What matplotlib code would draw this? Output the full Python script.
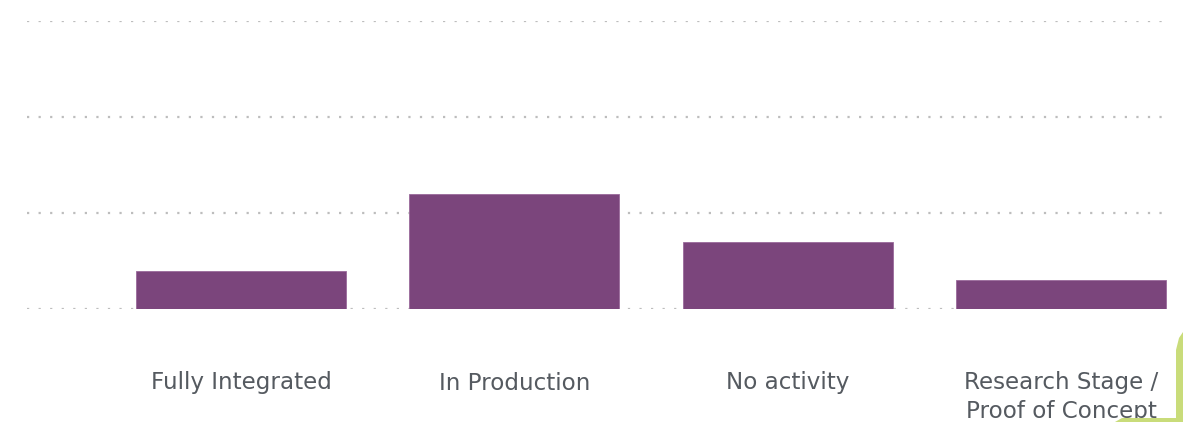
import matplotlib
matplotlib.use("Agg")
import matplotlib.pyplot as plt
from matplotlib.patches import Polygon
import numpy as np

categories = ["Fully Integrated", "In Production", "No activity", "Research Stage /\nProof of Concept"]
values = [4, 12, 7, 3]
grid_ticks = [0, 10, 20, 30]

W, H = 1183, 422
fig = plt.figure(figsize=(W / 100, H / 100), dpi=100)
fig.patch.set_facecolor("white")

ax = fig.add_axes([27 / W, (H - 309) / H, (1170 - 27) / W, (309 - 21) / H])
x = np.arange(len(categories))
ax.bar(x, values, width=0.768, color="#7b457c", edgecolor="#9a6a9b", linewidth=0.6, zorder=2)

ax.set_xlim(-0.783, 3.399)
ax.set_ylim(0, 30)
ax.set_yticks(grid_ticks)
ax.set_yticklabels([])
ax.tick_params(axis="y", length=0)
ax.yaxis.grid(True, color="#bdbdbd", linewidth=1.6, linestyle=(0, (1, 4.2)), zorder=0)
ax.set_axisbelow(True)
for s in ax.spines.values():
    s.set_visible(False)

ax.set_xticks(x)
ax.set_xticklabels(categories, fontsize=16.6, color="#555a60", linespacing=1.28)
ax.tick_params(axis="x", length=0, pad=45)

# lime decoration bottom-right
pts = [(1176, 350), (1179, 338), (1183, 332), (1183, 422), (1115, 422), (1122, 418), (1176, 418)]
poly = Polygon([(px / W, 1 - py / H) for px, py in pts], closed=True,
               transform=fig.transFigure, facecolor="#c9dc7a", edgecolor="none")
fig.patches.append(poly)

fig.savefig("out.png", dpi=100)
